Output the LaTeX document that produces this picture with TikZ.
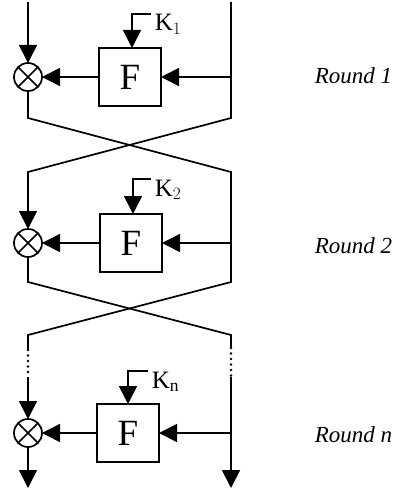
\documentclass[tikz,border=0pt]{standalone}
\usepackage{fontspec}
\setmainfont{Liberation Serif}
\usetikzlibrary{arrows.meta}

\begin{document}
\begin{tikzpicture}[x=1pt,y=-1pt, line width=1.7pt,
  flow/.style={-{Triangle[length=18pt,width=18pt]}},
  xorop/.style={circle, draw, minimum size=28pt, inner sep=0pt, outer sep=0pt,
    path picture={\draw (path picture bounding box.north west) -- (path picture bounding box.south east)
                        (path picture bounding box.north east) -- (path picture bounding box.south west);}},
  fbox/.style={draw, minimum width=62pt, minimum height=58pt, inner sep=0pt, outer sep=0pt,
    font=\fontsize{37}{37}\selectfont},
  keytext/.style={anchor=base west, inner sep=0pt, font=\fontsize{25}{25}\selectfont},
  roundtext/.style={anchor=base west, inner sep=0pt, font=\fontsize{23}{23}\selectfont\itshape},
  dotline/.style={line cap=round, line width=2.6pt, dash pattern=on 0pt off 5.5pt}]
\useasboundingbox (0,0) rectangle (398,489);

% ---------- Round 1 ----------
\coordinate (t1L) at (28,2);
\coordinate (t1R) at (231,2);
\node[xorop] (x1) at (28,77) {};
\node[fbox] (f1) at (130,77) {F};
\coordinate (k1a) at (151,14);
\coordinate (k1b) at (132,14);
\node[keytext] (k1) at (154,31) {K$_1$};
\node[roundtext] (r1) at (314,84) {Round 1};
\draw[flow] (k1a) -- (k1b) -- (k1b |- f1.north);
\draw[flow] (t1L) -- (x1.north);
\draw[flow] (t1R |- f1) -- (f1.east);
\draw[flow] (f1.west) -- (x1.east);

% first swap
\coordinate (c1L) at (28,118);
\coordinate (c1R) at (231,118);
\coordinate (s2L) at (28,172);
\coordinate (s2R) at (231,172);

% ---------- Round 2 ----------
\node[xorop] (x2) at (28,243) {};
\node[fbox] (f2) at (131,243) {F};
\coordinate (k2a) at (151,179);
\coordinate (k2b) at (133,179);
\node[keytext] (k2) at (154,196) {K$_2$};
\node[roundtext] (r2) at (314,253) {Round 2};
\draw[flow] (k2a) -- (k2b) -- (k2b |- f2.north);
\draw[flow] (t1R) -- (c1R) -- (s2L) -- (x2.north);
\draw[flow] (s2R |- f2) -- (f2.east);
\draw[flow] (f2.west) -- (x2.east);

% second swap
\coordinate (c2L) at (28,282);
\coordinate (c2R) at (231,282);
\coordinate (s3L) at (28,335);
\coordinate (s3R) at (231,335);
\coordinate (d3La) at (28,350);
\coordinate (d3Ra) at (231,348);
\coordinate (d3Lb) at (28,377);
\coordinate (d3Rb) at (231,377);

\draw (x1.south) -- (c1L) -- (s2R) -- (c2R) -- (s3L) -- (d3La);
\draw (x2.south) -- (c2L) -- (s3R) -- (d3Ra);
\draw[dotline] (d3La) -- (d3Lb);
\draw[dotline] (d3Ra) -- (d3Rb);

% ---------- Round n ----------
\node[xorop] (x3) at (28,433) {};
\node[fbox] (f3) at (128,433) {F};
\coordinate (k3a) at (148,371);
\coordinate (k3b) at (128,371);
\node[keytext] (k3) at (151,388) {K$_\mathrm{n}$};
\node[roundtext] (r3) at (314,442) {Round n};
\coordinate (oL) at (28,488);
\coordinate (oR) at (231,488);
\draw[flow] (k3a) -- (k3b) -- (k3b |- f3.north);
\draw[flow] (d3Lb) -- (x3.north);
\draw[flow] (x3.south) -- (oL);
\draw[flow] (d3Rb) -- (oR);
\draw[flow] (d3Rb |- f3) -- (f3.east);
\draw[flow] (f3.west) -- (x3.east);
\end{tikzpicture}
\end{document}
